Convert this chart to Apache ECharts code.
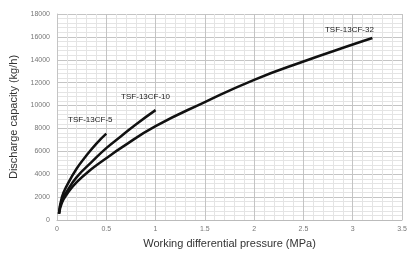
<!DOCTYPE html>
<html>
<head>
<meta charset="utf-8">
<script src="https://cdn.jsdelivr.net/npm/echarts@6/dist/echarts.min.js"></script>
<style>
  html, body { margin: 0; padding: 0; background: #fff; }
  #chart-container { width: 412px; height: 254px; }
</style>
</head>
<body>
<div id="chart-container"></div>
<script>
const seriesNames = ['TSF-13CF-5', 'TSF-13CF-10', 'TSF-13CF-32'];

// [pressure MPa, capacity kg/h]
const cf5 = [[0.02, 550], [0.05, 2000], [0.1, 3000], [0.2, 4500], [0.3, 5650], [0.4, 6680], [0.5, 7550]];
const cf10 = [[0.02, 550], [0.05, 1750], [0.1, 2500], [0.2, 3750], [0.35, 5050], [0.5, 6280],
  [0.65, 7320], [0.8, 8350], [1.0, 9600]];
const cf32 = [[0.02, 550], [0.05, 1500], [0.1, 2250], [0.2, 3300], [0.35, 4450], [0.5, 5400],
  [0.65, 6300], [1.0, 8200], [1.5, 10300], [2.0, 12250], [2.5, 13850], [3.0, 15330], [3.2, 15900]];

// label centre relative to the end of each curve, px
const labelOffsets = [[-16, -14], [-10, -13], [-23, -8]];

const dom = document.getElementById('chart-container');
const myChart = echarts.init(dom, null, { renderer: 'canvas' });

const axisText = { color: '#777', fontSize: 7, fontFamily: 'Liberation Sans, Arial' };
const titleText = { color: '#333', fontSize: 11, fontFamily: 'Liberation Sans, Arial' };

const makeSeries = (name, data, i) => ({
  name,
  type: 'line',
  data,
  smooth: 0.5,
  symbol: 'none',
  lineStyle: { color: '#111', width: 2.5 },
  endLabel: {
    show: true,
    distance: 0,
    align: 'center',
    verticalAlign: 'middle',
    offset: labelOffsets[i],
    formatter: name,
    color: '#222',
    fontSize: 8,
    fontFamily: 'Liberation Sans, Arial',
  },
});

const option = {
  animation: false,
  grid: { left: 55, right: 10, top: 14, bottom: 33, containLabel: false },
  xAxis: {
    type: 'value',
    min: 0,
    max: 3.5,
    interval: 0.5,
    name: 'Working differential pressure (MPa)',
    nameLocation: 'middle',
    nameGap: 18,
    nameTextStyle: titleText,
    axisLine: { show: true, lineStyle: { color: '#bbb' } },
    axisTick: { show: false },
    axisLabel: { ...axisText, margin: 6 },
    splitLine: { show: true, lineStyle: { color: '#c4c4c4', width: 1 } },
    minorTick: { show: false, splitNumber: 5 },
    minorSplitLine: { show: true, lineStyle: { color: '#e4e4e4', width: 1 } },
  },
  yAxis: {
    type: 'value',
    min: 0,
    max: 18000,
    interval: 2000,
    name: 'Discharge capacity (kg/h)',
    nameLocation: 'middle',
    nameGap: 38,
    nameTextStyle: titleText,
    axisLine: { show: true, lineStyle: { color: '#c4c4c4' } },
    axisTick: { show: false },
    axisLabel: { ...axisText, margin: 7, formatter: (v) => String(v) },
    splitLine: { show: true, lineStyle: { color: '#c4c4c4', width: 1 } },
    minorTick: { show: false, splitNumber: 5 },
    minorSplitLine: { show: true, lineStyle: { color: '#e4e4e4', width: 1 } },
  },
  series: [cf5, cf10, cf32].map((d, i) => makeSeries(seriesNames[i], d, i)),
};

myChart.setOption(option);
window.addEventListener('resize', myChart.resize);
</script>
</body>
</html>
